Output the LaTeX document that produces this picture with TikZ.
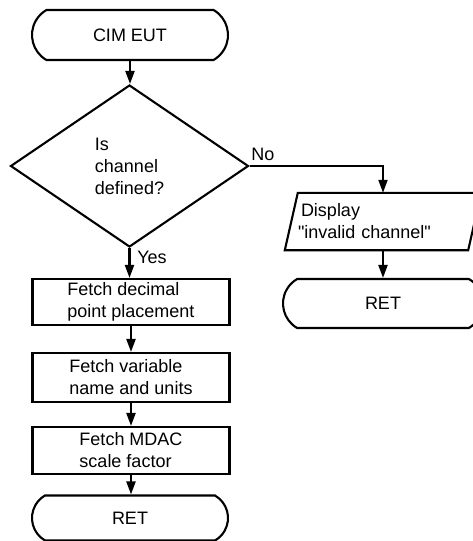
\documentclass[tikz,border=0pt]{standalone}
\usepackage{fontspec}
\setmainfont{Liberation Sans}
\newfontfamily\plainsans{Liberation Sans}
\usetikzlibrary{shapes.misc,shapes.geometric,arrows.meta}
\begin{document}
\begin{tikzpicture}[x=1pt,y=-1pt,
  every node/.style={font=\plainsans\fontsize{18}{22}\selectfont},
  ln/.style={line width=2.1pt},
  term/.style={ln,draw,rounded rectangle,rounded rectangle arc length=120,minimum width=196pt,inner sep=0pt},
  dia/.style={ln,draw,diamond,minimum width=238pt,minimum height=162pt,inner sep=0pt,align=left},
  proc/.style={ln,draw,rectangle,minimum width=197pt,inner sep=0pt,align=left},
  arr/.style={ln,-{Triangle[length=13pt,width=9pt]}},
  lbl/.style={inner sep=0pt}
]
\useasboundingbox (0,0) rectangle (472,541);
\node[term,minimum height=50pt] (start) at (130,35) {CIM EUT};
\node[dia] (q) at (129.5,166) {Is\\channel\\defined?};
\node[proc,minimum height=46pt] (b1) at (131,302) {Fetch decimal\\point placement};
\node[proc,minimum height=49pt] (b2) at (131,377.5) {Fetch variable\\name and units};
\node[proc,minimum height=47pt] (b3) at (131,450.5) {Fetch MDAC\\scale factor};
\node[term,minimum height=45pt] (end1) at (130,518) {RET};
\node[inner xsep=6.5pt,inner ysep=0pt,minimum width=183pt,minimum height=57pt,text width=170pt,align=left] (disp) at (383,221.5) {\hspace*{3pt}Display\\"invalid channel"};
\draw[ln] ([xshift=6.5pt]disp.north west) -- ([xshift=6.5pt]disp.north east)
  -- ([xshift=-6.5pt]disp.south east) -- ([xshift=-6.5pt]disp.south west) -- cycle;
\node[term,minimum height=49pt,minimum width=200pt] (ret2) at (383,303.5) {RET};
\node[lbl] (nolbl) at (263,154) {No};
\node[lbl] (yeslbl) at (152,257) {Yes};
\draw[arr] (start.south) -- (start.south |- q.north);
\draw[arr] (q.south) -- (q.south |- b1.north);
\draw[arr] (b1.south) -- (b2.north);
\draw[arr] (b2.south) -- (b3.north);
\draw[arr] (b3.south) -- (b3.south |- end1.north);
\draw[arr] (q.east) -| (disp.north);
\draw[arr] (disp.south) -- (ret2.north);
\end{tikzpicture}
\end{document}
